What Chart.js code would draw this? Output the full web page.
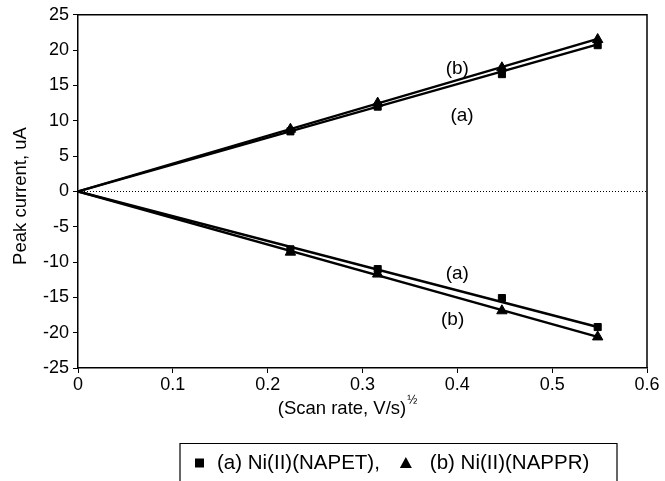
<!DOCTYPE html>
<html>
<head>
<meta charset="utf-8">
<script src="https://cdn.jsdelivr.net/npm/chart.js@4.4.1/dist/chart.umd.min.js"></script>
<style>
  html, body { margin: 0; padding: 0; background: #fff; }
  #wrap { width: 665px; height: 481px; position: relative; }
</style>
</head>
<body>
<div id="wrap"><canvas id="c" width="665" height="481"></canvas></div>
<script>
// ---- data ----
const scanRate   = [0.224, 0.316, 0.447, 0.548];      // (V/s)^1/2
const anodicA    = [8.5, 12.0, 16.6, 20.7];           // (a) Ni(II)(NAPET), upper branch
const anodicB    = [8.8, 12.5, 17.5, 21.5];           // (b) Ni(II)(NAPPR), upper branch
const cathodicA  = [-8.2, -11.0, -15.1, -19.2];       // (a) lower branch
const cathodicB  = [-8.6, -11.7, -16.9, -20.6];       // (b) lower branch
const fitX       = [0, 0.548];
const fitAnodicA = [0, 20.8];
const fitAnodicB = [0, 21.6];
const fitCathA   = [0, -19.2];
const fitCathB   = [0, -20.6];
const xTicks = [0, 0.1, 0.2, 0.3, 0.4, 0.5, 0.6];
const yTicks = [-25, -20, -15, -10, -5, 0, 5, 10, 15, 20, 25];
const legendLabels = ['(a) Ni(II)(NAPET),', '(b) Ni(II)(NAPPR)'];
const curveLabels = [
  {x: 0.40, y: 17.3, t: '(b)'},
  {x: 0.405, y: 10.7, t: '(a)'},
  {x: 0.40, y: -11.6, t: '(a)'},
  {x: 0.395, y: -18.2, t: '(b)'}
];

const pts = (xs, ys) => xs.map((x, i) => ({x, y: ys[i]}));
const FONT = '"Liberation Sans", Arial, sans-serif';

function markerSet(data, style) {
  return {
    data, showLine: false, pointStyle: style,
    pointRadius: style === 'triangle' ? 6 : 5,
    pointBackgroundColor: '#000', pointBorderColor: '#000', pointBorderWidth: 1
  };
}
function lineSet(data) {
  return { data, showLine: true, pointRadius: 0, borderColor: '#000', borderWidth: 2.4, fill: false };
}

const deco = {
  id: 'deco',
  beforeDatasetsDraw(chart) {
    const {ctx, chartArea: a, scales: {x, y}} = chart;
    ctx.save();
    ctx.strokeStyle = '#000';
    ctx.lineWidth = 1;
    ctx.setLineDash([1, 2]);
    const y0 = Math.round(y.getPixelForValue(0)) + 0.5;
    ctx.beginPath(); ctx.moveTo(x.getPixelForValue(0), y0); ctx.lineTo(a.right, y0); ctx.stroke();
    ctx.setLineDash([]);
    ctx.lineWidth = 1.5;
    ctx.beginPath();
    ctx.moveTo(a.left, a.top); ctx.lineTo(a.right, a.top); ctx.lineTo(a.right, a.bottom);
    ctx.stroke();
    ctx.restore();
  },
  afterDraw(chart) {
    const {ctx, chartArea: a, scales: {x, y}} = chart;
    ctx.save();
    ctx.fillStyle = '#000';
    ctx.font = '19px ' + FONT;
    ctx.textAlign = 'center'; ctx.textBaseline = 'middle';
    curveLabels.forEach(l => ctx.fillText(l.t, x.getPixelForValue(l.x), y.getPixelForValue(l.y)));
    // y title
    ctx.font = '18.5px ' + FONT;
    ctx.save();
    ctx.translate(21, 196);
    ctx.rotate(-Math.PI / 2);
    ctx.textAlign = 'center'; ctx.textBaseline = 'middle';
    ctx.fillText('Peak current, uA', 0, 0);
    ctx.restore();
    // x title with superscript
    const main = '(Scan rate, V/s)';
    ctx.font = '18.5px ' + FONT;
    const w = ctx.measureText(main).width;
    const cx = 342, ty = 409;
    ctx.textAlign = 'left'; ctx.textBaseline = 'middle';
    ctx.fillText(main, cx - w / 2, ty);
    ctx.font = '12px ' + FONT;
    ctx.fillText('½', cx + w / 2 + 1, ty - 8);
    // legend box
    ctx.lineWidth = 1.2;
    ctx.strokeStyle = '#000';
    ctx.beginPath();
    ctx.moveTo(180, 482); ctx.lineTo(180, 443.5); ctx.lineTo(617, 443.5); ctx.lineTo(617, 482);
    ctx.stroke();
    const ly = 463;
    ctx.fillRect(195, ly - 4.5, 9, 9);
    ctx.font = '20.5px ' + FONT;
    ctx.textAlign = 'left'; ctx.textBaseline = 'middle';
    const t1x = 217;
    ctx.fillText(legendLabels[0], t1x, ly);
    const triX = t1x + ctx.measureText(legendLabels[0]).width + 26;
    ctx.beginPath();
    ctx.moveTo(triX, ly - 6); ctx.lineTo(triX + 6, ly + 5); ctx.lineTo(triX - 6, ly + 5); ctx.closePath(); ctx.fill();
    ctx.fillText(legendLabels[1], triX + 24, ly);
    ctx.restore();
  }
};

new Chart(document.getElementById('c'), {
  type: 'scatter',
  data: {
    datasets: [
      lineSet(pts(fitX, fitAnodicA)),
      lineSet(pts(fitX, fitAnodicB)),
      lineSet(pts(fitX, fitCathA)),
      lineSet(pts(fitX, fitCathB)),
      markerSet(pts(scanRate, anodicA), 'rect'),
      markerSet(pts(scanRate, anodicB), 'triangle'),
      markerSet(pts(scanRate, cathodicA), 'rect'),
      markerSet(pts(scanRate, cathodicB), 'triangle')
    ]
  },
  options: {
    responsive: false,
    animation: false,
    layout: { padding: { top: 13, right: 18, left: 0, bottom: 0 } },
    plugins: { legend: { display: false }, tooltip: { enabled: false } },
    scales: {
      x: {
        type: 'linear', min: 0, max: 0.6,
        afterBuildTicks: s => { s.ticks = xTicks.map(v => ({value: v})); },
        afterFit: s => { s.height = 113; },
        grid: { drawOnChartArea: false, drawTicks: true, tickLength: 5, color: '#000' },
        border: { display: true, color: '#000', width: 1.5 },
        ticks: { color: '#000', font: { size: 18, family: FONT }, padding: 1, maxRotation: 0,
                 callback: v => String(+v.toFixed(1)) }
      },
      y: {
        type: 'linear', min: -25, max: 25,
        afterBuildTicks: s => { s.ticks = yTicks.map(v => ({value: v})); },
        afterFit: s => { s.width = 78; },
        grid: { drawOnChartArea: false, drawTicks: true, tickLength: 5, color: '#000' },
        border: { display: true, color: '#000', width: 1.5 },
        ticks: { color: '#000', font: { size: 18, family: FONT }, padding: 4 }
      }
    }
  },
  plugins: [deco]
});
</script>
</body>
</html>
